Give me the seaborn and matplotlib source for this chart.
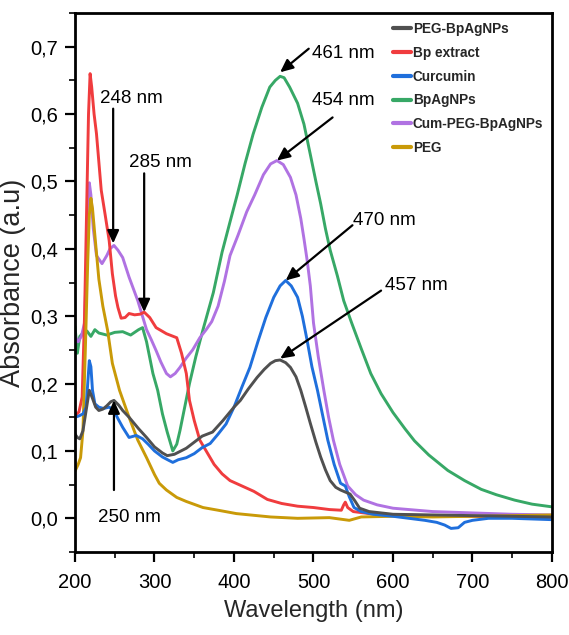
import numpy as np
import pandas as pd
import matplotlib
matplotlib.use("Agg")
import matplotlib.pyplot as plt
import seaborn as sns
from matplotlib.ticker import MultipleLocator, FixedLocator, FixedFormatter
from matplotlib.lines import Line2D

# ---------------- data ----------------
series_names = ["PEG-BpAgNPs", "Bp extract", "Curcumin", "BpAgNPs", "Cum-PEG-BpAgNPs", "PEG"]
series_colors = ["#505050", "#f03c3e", "#1f6fdc", "#37a866", "#b072e2", "#c99a08"]

peg_bpagnps_wl = [200, 203, 206, 210, 214, 218, 222, 226, 230, 235, 240, 245, 249, 255, 260, 268, 280, 290, 300, 310,
                  316, 325, 340, 360, 373, 386, 400, 408, 418, 429, 438, 446, 452, 458, 465, 471, 478, 484, 490, 496,
                  503, 509, 515, 521, 528, 534, 540, 546, 552, 558, 570, 585, 600, 650, 700, 750, 800]
peg_bpagnps_a = [0.125, 0.12, 0.118, 0.13, 0.16, 0.19, 0.178, 0.165, 0.16, 0.162, 0.167, 0.173, 0.175, 0.168, 0.16, 0.15,
                 0.133, 0.12, 0.106, 0.097, 0.093, 0.095, 0.104, 0.122, 0.128, 0.145, 0.165, 0.175, 0.192, 0.209, 0.221,
                 0.23, 0.234, 0.235, 0.231, 0.224, 0.21, 0.19, 0.166, 0.141, 0.113, 0.091, 0.072, 0.056, 0.046, 0.042,
                 0.039, 0.036, 0.026, 0.015, 0.01, 0.008, 0.006, 0.005, 0.004, 0.003, 0.002]

bp_extract_wl = [200, 205, 209, 212, 215, 217, 219, 221, 224, 227, 233, 238, 243, 247, 251, 254, 258, 263, 268, 275,
                 282, 287, 294, 302, 315, 328, 334, 340, 344, 350, 357, 365, 375, 385, 395, 410, 425, 442, 460, 480,
                 500, 520, 535, 538, 540, 543, 550, 570, 600, 650, 700, 750, 800]
bp_extract_a = [0.152, 0.158, 0.18, 0.3, 0.48, 0.6, 0.66, 0.64, 0.6, 0.571, 0.487, 0.45, 0.412, 0.363, 0.33, 0.313,
                0.297, 0.298, 0.304, 0.302, 0.303, 0.306, 0.298, 0.283, 0.274, 0.268, 0.245, 0.215, 0.175, 0.145,
                0.116, 0.1, 0.08, 0.066, 0.056, 0.048, 0.04, 0.028, 0.022, 0.018, 0.016, 0.013, 0.012, 0.02, 0.024,
                0.016, 0.01, 0.007, 0.005, 0.004, 0.003, 0.002, 0.0]

curcumin_wl = [200, 205, 210, 214, 216, 218, 220, 222, 225, 230, 236, 243, 249, 254, 260, 268, 277, 285, 292, 300,
               310, 318, 323, 330, 340, 350, 360, 370, 380, 390, 400, 410, 420, 430, 440, 450, 458, 465, 472, 480,
               486, 492, 498, 505, 512, 518, 526, 534, 540, 545, 551, 560, 575, 600, 620, 640, 655, 665, 673, 682,
               690, 700, 720, 750, 800]
curcumin_a = [0.15, 0.152, 0.155, 0.165, 0.2, 0.234, 0.225, 0.19, 0.17, 0.165, 0.163, 0.165, 0.16, 0.148, 0.135, 0.12,
              0.123, 0.118, 0.11, 0.1, 0.091, 0.086, 0.083, 0.087, 0.09, 0.096, 0.105, 0.111, 0.125, 0.14, 0.165,
              0.195, 0.224, 0.262, 0.298, 0.328, 0.345, 0.353, 0.345, 0.328, 0.3, 0.264, 0.225, 0.19, 0.15, 0.116,
              0.08, 0.052, 0.048, 0.032, 0.016, 0.01, 0.006, 0.003, 0.0, -0.003, -0.006, -0.01, -0.015, -0.014,
              -0.006, -0.003, 0.0, 0.0, -0.002]

bpagnps_wl = [200, 203, 206, 210, 215, 220, 225, 230, 240, 250, 260, 270, 280, 285, 290, 298, 304, 310, 316, 323,
              328, 332, 338, 344, 352, 361, 374, 385, 395, 404, 414, 424, 435, 445, 452, 458, 463, 470, 480, 488,
              496, 503, 509, 515, 521, 530, 538, 548, 560, 572, 585, 600, 615, 627, 645, 669, 690, 711, 730, 753,
              775, 800]
bpagnps_a = [0.285, 0.245, 0.27, 0.275, 0.278, 0.27, 0.28, 0.275, 0.272, 0.276, 0.277, 0.272, 0.28, 0.283, 0.262,
             0.215, 0.19, 0.155, 0.128, 0.1, 0.11, 0.13, 0.165, 0.2, 0.24, 0.28, 0.335, 0.395, 0.44, 0.48, 0.527,
             0.57, 0.61, 0.64, 0.65, 0.656, 0.654, 0.64, 0.616, 0.585, 0.54, 0.5, 0.467, 0.43, 0.398, 0.36, 0.323,
             0.29, 0.252, 0.215, 0.185, 0.157, 0.133, 0.115, 0.094, 0.071, 0.056, 0.043, 0.035, 0.027, 0.021, 0.017]

cum_peg_wl = [200, 204, 208, 212, 215, 218, 220, 223, 227, 234, 240, 244, 249, 254, 260, 268, 279, 290, 296, 302,
              308, 315, 320, 326, 332, 340, 348, 357, 365, 372, 380, 388, 395, 405, 416, 426, 437, 446, 454, 462,
              471, 478, 484, 488, 492, 496, 500, 506, 513, 519, 525, 533, 543, 553, 563, 580, 600, 650, 700, 750, 800]
cum_peg_a = [0.27, 0.262, 0.27, 0.29, 0.4, 0.498, 0.48, 0.43, 0.39, 0.378, 0.39, 0.4, 0.405, 0.398, 0.387, 0.358,
             0.323, 0.28, 0.265, 0.249, 0.232, 0.215, 0.21, 0.215, 0.224, 0.238, 0.25, 0.268, 0.28, 0.292, 0.315,
             0.352, 0.39, 0.42, 0.455, 0.48, 0.51, 0.526, 0.531, 0.525, 0.506, 0.48, 0.445, 0.415, 0.383, 0.345,
             0.29, 0.24, 0.19, 0.15, 0.116, 0.08, 0.048, 0.035, 0.027, 0.02, 0.015, 0.01, 0.008, 0.006, 0.005]

peg_wl = [200, 204, 207, 210, 213, 216, 218, 220, 222, 225, 230, 235, 241, 247, 256, 268, 279, 290, 300, 306, 315,
          328, 340, 361, 380, 403, 446, 480, 520, 545, 560, 600, 650, 700, 750, 800]
peg_a = [0.07, 0.08, 0.09, 0.13, 0.25, 0.38, 0.45, 0.475, 0.46, 0.42, 0.355, 0.315, 0.279, 0.23, 0.19, 0.15, 0.116,
         0.09, 0.065, 0.052, 0.042, 0.031, 0.025, 0.016, 0.012, 0.007, 0.002, 0.0, 0.001, -0.003, 0.002, 0.003,
         0.002, 0.003, 0.004, 0.005]

x_ticks = [200, 300, 400, 500, 600, 700, 800]
y_ticks = [0.0, 0.1, 0.2, 0.3, 0.4, 0.5, 0.6, 0.7]
y_tick_labels = ["0,0", "0,1", "0,2", "0,3", "0,4", "0,5", "0,6", "0,7"]

peak_labels = ["248 nm", "285 nm", "250 nm", "461 nm", "454 nm", "470 nm", "457 nm"]
peak_tip_wl = [248, 287, 249, 458, 454, 465, 458]
peak_tip_a = [0.408, 0.306, 0.175, 0.662, 0.531, 0.353, 0.237]

# ---------------- build long table ----------------
frames = []
for name, wl, a in zip(series_names,
                       [peg_bpagnps_wl, bp_extract_wl, curcumin_wl, bpagnps_wl, cum_peg_wl, peg_wl],
                       [peg_bpagnps_a, bp_extract_a, curcumin_a, bpagnps_a, cum_peg_a, peg_a]):
    frames.append(pd.DataFrame({"Wavelength": wl, "Absorbance": a, "Sample": name}))
df = pd.concat(frames, ignore_index=True)

# ---------------- plotting ----------------
sns.set_style("ticks")
plt.rcParams["font.family"] = ["Liberation Sans", "DejaVu Sans"]

fig = plt.figure(figsize=(5.69, 6.35), dpi=100)
ax = fig.add_axes([75 / 569, 1 - 552 / 635, (552 - 75) / 569, (552 - 13) / 635])

draw_order = ["BpAgNPs", "Cum-PEG-BpAgNPs", "Bp extract", "PEG", "Curcumin", "PEG-BpAgNPs"]
palette = dict(zip(series_names, series_colors))
sns.lineplot(data=df, x="Wavelength", y="Absorbance", hue="Sample", hue_order=draw_order,
             palette=palette, estimator=None, sort=True, linewidth=2.1, ax=ax, legend=False)

ax.set_xlim(200, 800)
ax.set_ylim(-0.05, 0.75)
ax.xaxis.set_major_locator(FixedLocator(x_ticks))
ax.xaxis.set_minor_locator(MultipleLocator(50))
ax.yaxis.set_major_locator(FixedLocator(y_ticks))
ax.yaxis.set_major_formatter(FixedFormatter(y_tick_labels))
ax.yaxis.set_minor_locator(MultipleLocator(0.05))

for s in ax.spines.values():
    s.set_linewidth(2.0)
    s.set_color("black")
ax.tick_params(which="major", direction="out", length=7, width=1.6, labelsize=14.5,
               top=False, right=False, colors="black")
ax.tick_params(axis="x", which="major", pad=8)
ax.tick_params(axis="y", which="major", pad=5)
ax.tick_params(which="minor", direction="out", length=4, width=1.4, top=False, right=False)

ax.set_xlabel("Wavelength (nm)", fontsize=17, labelpad=6)
ax.set_ylabel("Absorbance (a.u)", fontsize=19.5, labelpad=3)

# legend
handles = [Line2D([0], [0], color=c, lw=3) for c in series_colors]
leg = ax.legend(handles, series_names, loc="upper left", bbox_to_anchor=(393 / 569, 1 - 22 / 635),
                bbox_transform=fig.transFigure, frameon=False, borderpad=0, borderaxespad=0,
                handlelength=1.3, handletextpad=0.15, labelspacing=0.72,
                prop={"weight": "bold", "size": 9.8})

# annotations: arrow tails and text positions
tail_wl = [248, 287, 249, 494, 524, 549, 585]
tail_a = [0.608, 0.512, 0.042, 0.697, 0.595, 0.435, 0.338]
text_wl = [271, 308, 268, 538, 537, 589, 629]
text_a = [0.623, 0.528, 0.0015, 0.69, 0.62, 0.442, 0.346]
for lab, tw, ta, sw, sa, xw, xa in zip(peak_labels, peak_tip_wl, peak_tip_a, tail_wl, tail_a, text_wl, text_a):
    ax.annotate("", xy=(tw, ta), xytext=(sw, sa),
                arrowprops=dict(arrowstyle="-|>,head_length=0.55,head_width=0.25", color="black",
                                lw=1.6, mutation_scale=14, shrinkA=0, shrinkB=0))
    ax.text(xw, xa, lab, fontsize=13.5, ha="center", va="center", color="black")

fig.savefig("out.png", dpi=100)
